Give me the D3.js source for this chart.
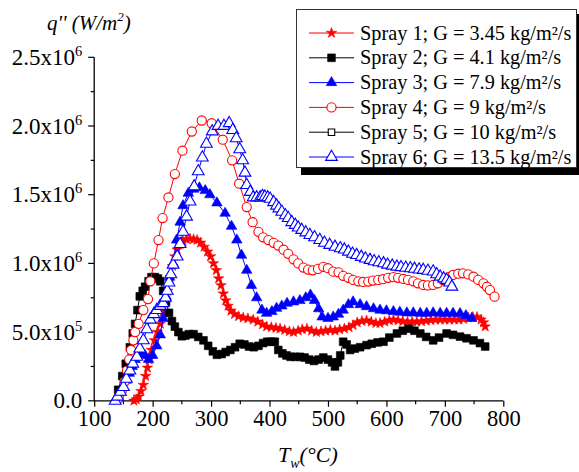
<!DOCTYPE html>
<html><head><meta charset="utf-8">
<script src="https://cdn.jsdelivr.net/npm/d3@7"></script>
<style>body{margin:0;background:#fff}svg{display:block;font-family:"Liberation Serif","Times New Roman",serif}</style>
</head><body><svg id="c" width="579" height="472"></svg>
<script>
// ---- data ----
const seriesNames = ["Spray 1; G = 3.45 kg/m²/s","Spray 2; G = 4.1 kg/m²/s","Spray 3; G = 7.9 kg/m²/s","Spray 4; G = 9 kg/m²/s","Spray 5; G = 10 kg/m²/s","Spray 6; G = 13.5 kg/m²/s"];
const xTicks = [100,200,300,400,500,600,700,800];
const yTicks = [0,0.5e6,1.0e6,1.5e6,2.0e6,2.5e6];
const yTickLabels = [["0.0",""],["5.0x10","5"],["1.0x10","6"],["1.5x10","6"],["2.0x10","6"],["2.5x10","6"]];

const s1T = [168,172,176,180,184,188,191,194,198,203,208,213,218,222,226,230,234,238,242,247,252,258,264,270,276,282,288,294,299,304,309,313,317,321,325,329,334,340,347,355,363,372,380,388,395,403,411,418,426,434,441,449,456,464,472,480,488,496,504,512,520,528,536,543,550,558,566,574,582,589,597,605,612,620,628,636,644,652,660,668,676,684,692,700,708,716,724,732,740,748,755,762,766,769];
const s1Q = [0.0,0.01,0.03,0.07,0.115,0.18,0.24,0.3,0.37,0.44,0.5,0.56,0.65,0.72,0.8,0.9,0.98,1.05,1.1,1.14,1.16,1.175,1.18,1.175,1.17,1.15,1.12,1.085,1.05,1.0,0.95,0.89,0.84,0.78,0.73,0.69,0.655,0.63,0.615,0.605,0.6,0.59,0.575,0.555,0.54,0.535,0.53,0.525,0.515,0.505,0.5,0.51,0.52,0.525,0.51,0.5,0.505,0.51,0.515,0.51,0.52,0.525,0.535,0.55,0.57,0.58,0.585,0.575,0.565,0.565,0.575,0.585,0.59,0.585,0.578,0.575,0.575,0.575,0.578,0.583,0.587,0.59,0.59,0.59,0.59,0.59,0.59,0.595,0.605,0.61,0.61,0.59,0.57,0.54];

const s2T = [141,148,154,161,166,170,174,178,183,187,193,198,204,209,213,218,223,228,233,238,244,250,256,262,270,278,287,295,303,310,318,325,333,341,349,357,365,373,381,389,396,403,409,415,422,429,436,444,452,460,468,476,484,492,500,507,512,517,521,526,532,538,546,555,566,575,585,595,605,618,628,638,648,658,668,680,690,703,714,726,737,749,760,769];
const s2Q = [0.08,0.18,0.27,0.39,0.49,0.56,0.66,0.76,0.8,0.83,0.87,0.9,0.9,0.89,0.87,0.8,0.72,0.64,0.58,0.54,0.5,0.47,0.475,0.485,0.485,0.465,0.44,0.4,0.36,0.335,0.34,0.355,0.37,0.39,0.415,0.41,0.395,0.39,0.4,0.42,0.43,0.43,0.43,0.37,0.345,0.33,0.32,0.32,0.32,0.315,0.3,0.29,0.3,0.315,0.3,0.28,0.25,0.28,0.33,0.43,0.41,0.37,0.38,0.39,0.405,0.415,0.425,0.43,0.46,0.49,0.51,0.525,0.51,0.49,0.465,0.44,0.46,0.49,0.48,0.467,0.455,0.44,0.42,0.395];

const s3T = [138,145,150,155,160,165,170,175,180,187,193,200,207,213,218,223,229,235,241,247,252,261,270,280,290,298,310,324,335,344,352,361,369,378,387,395,404,412,421,430,441,452,462,470,477,484,490,500,509,518,526,535,543,555,566,578,589,600,612,623,635,646,658,669,680,692,703,714,726,736,746];
const s3Q = [0.02,0.06,0.1,0.15,0.2,0.25,0.3,0.34,0.36,0.33,0.3,0.33,0.4,0.48,0.6,0.76,0.9,1.0,1.17,1.3,1.42,1.51,1.54,1.55,1.53,1.5,1.44,1.365,1.27,1.17,1.06,0.95,0.84,0.75,0.66,0.637,0.65,0.673,0.69,0.71,0.72,0.73,0.75,0.77,0.73,0.67,0.61,0.6,0.61,0.63,0.66,0.7,0.72,0.7,0.685,0.67,0.66,0.655,0.65,0.645,0.64,0.64,0.637,0.637,0.64,0.637,0.637,0.637,0.635,0.62,0.6];

const s4T = [142,147,152,156,160,163,167,170,176,184,192,196,202,210,217,227,238,251,267,284,301,320,336,348,361,371,381,389,398,407,415,424,432,441,449,458,466,474,483,492,500,509,518,526,535,543,552,560,569,577,586,594,603,612,620,629,637,646,654,663,671,680,688,697,706,714,723,731,740,749,757,766,772,777,785];
const s4Q = [0.02,0.07,0.14,0.22,0.3,0.37,0.44,0.5,0.56,0.66,0.74,0.87,1.0,1.17,1.33,1.48,1.65,1.82,1.96,2.04,2.02,1.9,1.75,1.58,1.41,1.3,1.23,1.19,1.17,1.15,1.13,1.1,1.07,1.03,1.0,0.97,0.955,0.95,0.96,0.975,0.965,0.94,0.935,0.91,0.895,0.88,0.87,0.865,0.868,0.875,0.88,0.885,0.895,0.9,0.895,0.887,0.88,0.87,0.855,0.843,0.84,0.843,0.855,0.879,0.9,0.916,0.925,0.928,0.92,0.903,0.88,0.855,0.83,0.806,0.758];

const s5T = [];
const s5Q = [];

const s6T = [136,140,145,150,155,161,166,173,178,184,190,196,202,207,213,218,222,225,228,231,235,242,247,252,258,264,271,278,285,292,302,312,322,331,337,343,349,354,358,361,367,372,378,384,388,392,397,401,407,412,416,421,427,432,438,444,449,455,462,469,477,486,494,503,512,521,528,535,542,549,557,564,572,579,587,595,602,610,618,625,633,641,648,656,663,671,680,686,692,698,703,708,712];
const s6Q = [0.0,0.03,0.065,0.1,0.16,0.22,0.27,0.32,0.38,0.44,0.52,0.59,0.63,0.66,0.69,0.71,0.75,0.8,0.86,0.92,0.99,1.05,1.14,1.23,1.34,1.45,1.56,1.67,1.77,1.87,1.96,2.0,2.0,2.02,1.97,1.91,1.83,1.75,1.66,1.57,1.52,1.48,1.48,1.48,1.49,1.485,1.48,1.47,1.445,1.42,1.4,1.375,1.35,1.33,1.3,1.28,1.26,1.243,1.225,1.206,1.19,1.17,1.15,1.134,1.12,1.11,1.1,1.085,1.07,1.06,1.047,1.035,1.025,1.015,1.008,1.0,0.99,0.983,0.976,0.972,0.968,0.964,0.96,0.955,0.952,0.946,0.94,0.92,0.903,0.89,0.879,0.86,0.83];

const seriesT = [s1T,s2T,s3T,s4T,s5T,s6T];
const seriesQ = [s1Q,s2Q,s3Q,s4Q,s5Q,s6Q];
const colors = ["#ff0000","#000000","#0000ff","#ff0000","#000000","#0000ff"];
const shapes = [d3.symbolStar,d3.symbolSquare,d3.symbolTriangle,d3.symbolCircle,d3.symbolSquare,d3.symbolTriangle];
const sizes = [34,60,48,66,42,60];
const filled = [true,true,true,false,false,false];

// ---- chart ----
const svg = d3.select("#c");
const x = d3.scaleLinear().domain([100,800]).range([94.2,503.3]);
const y = d3.scaleLinear().domain([0,2.5e6]).range([400.8,57.3]);

// axes
const xAxis = d3.axisBottom(x).tickValues(xTicks).tickSize(6).tickFormat(d3.format("d"));
const gx = svg.append("g").attr("transform","translate(0,400.8)").call(xAxis);
gx.selectAll(".tick line").attr("stroke","#000").attr("stroke-width",1.2);
gx.select(".domain").attr("d",`M${x(100)},0H${x(800)}`).attr("stroke","#000").attr("stroke-width",1.3);
gx.selectAll(".tick text").attr("font-size",22.5).attr("fill","#000").attr("y",9).attr("dy","0.71em").attr("font-family","Liberation Serif");
gx.selectAll(".minor").data(d3.range(150,800,100)).enter().append("line")
  .attr("x1",d=>x(d)).attr("x2",d=>x(d)).attr("y1",0).attr("y2",3.5).attr("stroke","#000").attr("stroke-width",1.2);

const gy = svg.append("g").attr("transform","translate(94.2,0)");
gy.append("line").attr("x1",0).attr("x2",0).attr("y1",y(2.5e6)).attr("y2",y(0)).attr("stroke","#000").attr("stroke-width",1.3);
gy.selectAll(".maj").data(yTicks).enter().append("line")
  .attr("x1",-6).attr("x2",0).attr("y1",d=>y(d)).attr("y2",d=>y(d)).attr("stroke","#000").attr("stroke-width",1.2);
gy.selectAll(".mnr").data(d3.range(0.25e6,2.5e6,0.5e6)).enter().append("line")
  .attr("x1",-3.5).attr("x2",0).attr("y1",d=>y(d)).attr("y2",d=>y(d)).attr("stroke","#000").attr("stroke-width",1.2);
yTicks.forEach((v,i)=>{
  const t = gy.append("text").attr("x",-12).attr("y",y(v)+7.5).attr("text-anchor","end").attr("font-size",23).attr("fill","#000");
  t.append("tspan").text(yTickLabels[i][0]);
  if(yTickLabels[i][1]) t.append("tspan").attr("font-size",14.5).attr("dy",-9).text(yTickLabels[i][1]);
});

// axis titles
const yl = svg.append("text").attr("x",47).attr("y",30).attr("font-size",21).attr("font-style","italic").attr("fill","#000");
yl.append("tspan").text("q'' (W/m");
yl.append("tspan").attr("font-size",13).attr("dy",-9).text("2");
yl.append("tspan").attr("dy",9).text(")");
const xl = svg.append("text").attr("x",278).attr("y",462).attr("font-size",22).attr("font-style","italic").attr("fill","#000");
xl.append("tspan").text("T");
xl.append("tspan").attr("font-size",14).attr("dy",6).text("w");
xl.append("tspan").attr("dy",-6).text("(°C)");

// series
const line = d3.line().x(d=>x(d[0])).y(d=>y(d[1]*1e6));
seriesT.forEach((T,i)=>{
  const pts = T.map((t,j)=>[t,seriesQ[i][j]]);
  const g = svg.append("g");
  g.append("path").datum(pts).attr("d",line).attr("fill","none").attr("stroke",colors[i]).attr("stroke-width",1);
  const sym = d3.symbol().type(shapes[i]).size(sizes[i]);
  g.selectAll("path.m").data(pts).enter().append("path").attr("class","m")
    .attr("transform",d=>`translate(${x(d[0])},${y(d[1]*1e6)})`)
    .attr("d",sym())
    .attr("fill",filled[i]?colors[i]:"#fff").attr("stroke",colors[i]).attr("stroke-width",filled[i]?0.6:1.1);
});

// legend
const lg = svg.append("g");
lg.append("rect").attr("x",301).attr("y",14).attr("width",278).attr("height",161).attr("fill","#000");
lg.append("rect").attr("x",296.5).attr("y",9.5).attr("width",280).attr("height",158).attr("fill","#fff").attr("stroke","#333").attr("stroke-width",1);
seriesNames.forEach((n,i)=>{
  const cy = 33 + i*24.8;
  lg.append("line").attr("x1",309).attr("x2",354).attr("y1",cy).attr("y2",cy).attr("stroke",colors[i]).attr("stroke-width",1);
  lg.append("path").attr("transform",`translate(331.5,${cy})`).attr("d",d3.symbol().type(shapes[i]).size(sizes[i])())
    .attr("fill",filled[i]?colors[i]:"#fff").attr("stroke",colors[i]).attr("stroke-width",filled[i]?0.6:1.1);
  lg.append("text").attr("x",360).attr("y",cy+6.5).attr("font-size",20.3).attr("fill","#000").text(n);
});
</script></body></html>
